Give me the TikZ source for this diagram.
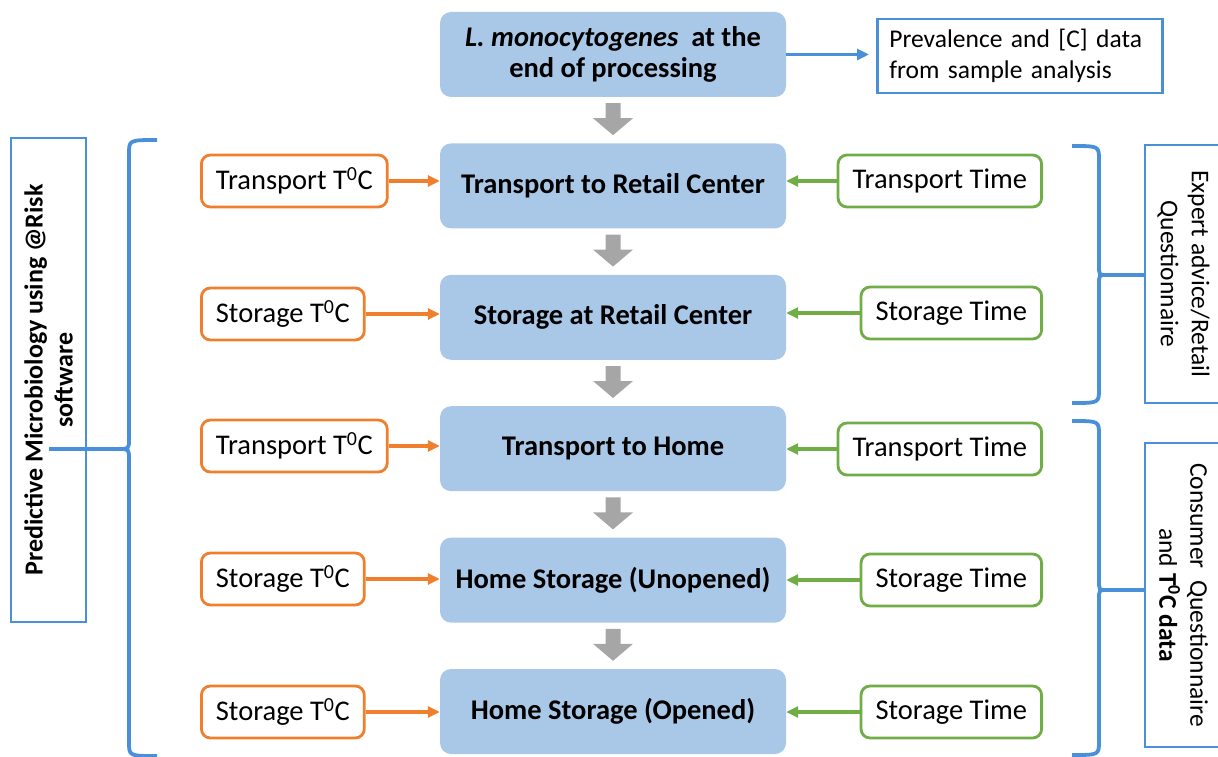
\documentclass[tikz,border=0pt]{standalone}
\usepackage{fontspec}
\setmainfont{Carlito}
\usetikzlibrary{
  arrows.meta,
  positioning,  % below=of ...
  calc,         % let ... in
}
\definecolor{stagefill}{HTML}{A9C8E8}
\definecolor{templine}{HTML}{F07F2D}
\definecolor{timeline}{HTML}{70AD47}
\definecolor{srcline}{HTML}{4A90D9}
\definecolor{flowgray}{HTML}{A6A6A6}
\newcommand{\tdeg}{T\textsuperscript{0}C}
\newcommand{\bigfont}{\fontsize{28.5}{31}\selectfont}
\newcommand{\sidefont}{\fontsize{25.5}{31}\selectfont}
% block arrow between two stages
\newcommand{\flowarrow}[2]{%
  \fill[flowgray] let \p1=(#1.south), \p2=(#2.north) in
    (\x1-7.5pt,\y1-6pt) -- (\x1+7.5pt,\y1-6pt) -- (\x1+7.5pt,\y2+25pt)
    -- (\x1+20pt,\y2+25pt) -- (\x1,\y2+8pt) -- (\x1-20pt,\y2+25pt)
    -- (\x1-7.5pt,\y2+25pt) -- cycle;}
% curly brace: end x, spine x, tip x, top y, tip y, bottom y, tip name
\newcommand{\curly}[7]{%
  \draw[brace] (#1,#4) .. controls (#2,#4) .. (#2,#4+14)
    -- (#2,#5-10) .. controls (#2,#5) .. (#3,#5)
    .. controls (#2,#5) .. (#2,#5+10)
    -- (#2,#6-14) .. controls (#2,#6) .. (#1,#6);
  \coordinate (#7) at (#3,#5);}
\tikzset{
  stage/.style={
    rectangle,
    rounded corners=11pt,
    fill=stagefill,
    minimum width=346pt,
    minimum height=85pt,
    inner sep=0pt,
    align=center,
    font=\bigfont\bfseries
  },
  input/.style={
    rectangle,
    rounded corners=9pt,
    line width=2.8pt,
    fill=white,
    minimum height=52pt,
    inner xsep=14.5pt,
    inner ysep=0pt,
    font=\bigfont
  },
  tempin/.style={input, draw=templine, anchor=west},
  timein/.style={input, draw=timeline, anchor=east},
  sidebox/.style={
    rectangle,
    draw=srcline,
    line width=2.8pt,
    inner sep=0pt,
    align=center,
    font=\sidefont
  },
  tarrow/.style={draw=templine, line width=3.4pt, -{Triangle[length=12pt,width=11pt]}},
  marrow/.style={draw=timeline, line width=3.4pt, -{Triangle[length=12pt,width=11pt]}},
  brace/.style={draw=srcline, line width=3.8pt},
  bracket/.style={draw=srcline, line width=3.4pt}
}
\begin{document}
\begin{tikzpicture}[x=1pt,y=-1pt]
\useasboundingbox (0,0) rectangle (1218,757);
\clip (0,0) rectangle (1218,757);

% main chain
\node[stage] (s0) at (613,54.5) {\textit{L. monocytogenes}\ \ at the\\end of processing};
\node[stage, below=46pt of s0] (s1) {Transport to Retail Center};
\node[stage, below=46pt of s1] (s2) {Storage at Retail Center};
\node[stage, below=46pt of s2] (s3) {Transport to Home};
\node[stage, below=46pt of s3] (s4) {Home Storage (Unopened)};
\node[stage, below=46pt of s4] (s5) {Home Storage (Opened)};
\flowarrow{s0}{s1}
\flowarrow{s1}{s2}
\flowarrow{s2}{s3}
\flowarrow{s3}{s4}
\flowarrow{s4}{s5}

% temperatures
\node[tempin] (tp1) at (200,181) {Transport \tdeg};
\node[tempin] (tp2) at (200,314) {Storage \tdeg};
\node[tempin] (tp3) at (200,446) {Transport \tdeg};
\node[tempin] (tp4) at (200,579) {Storage \tdeg};
\node[tempin] (tp5) at (200,712) {Storage \tdeg};

% times
\node[timein] (tm1) at (1043,181) {Transport Time};
\node[timein] (tm2) at (1043,313) {Storage Time};
\node[timein] (tm3) at (1043,449) {Transport Time};
\node[timein] (tm4) at (1043,580) {Storage Time};
\node[timein] (tm5) at (1043,712) {Storage Time};

\foreach \i in {1,...,5} {
  \draw[tarrow] (tp\i.east) -- (tp\i.east -| s\i.west);
  \draw[marrow] (tm\i.west) -- (tm\i.west -| s\i.east);
}

% data sources
\node[sidebox, anchor=west, minimum height=74pt, inner xsep=12pt,
      text width=261pt, align=left] (src) at (876,56)
  {Prevalence and [C] data\\from sample analysis};
\draw[bracket, -{Triangle[length=12pt,width=11pt]}, shorten >=7pt]
  (s0.east) -- (s0.east -| src.west);

\node[sidebox, rotate=90, minimum width=484pt, minimum height=75pt,
      font=\fontsize{26}{30}\selectfont\bfseries] (pm) at (48.5,380)
  {Predictive Microbiology using @Risk\\software};
\node[sidebox, rotate=-90, minimum width=258pt, minimum height=77pt] (ex) at (1183.5,274)
  {Expert advice/Retail\\Questionnaire};
\node[sidebox, rotate=-90, minimum width=304pt, minimum height=77pt] (cq) at (1183.5,595)
  {Consumer\ \ Questionnaire\\and \textbf{\tdeg\ data}};

% braces
\curly{157}{129}{118}{140}{449}{756}{lb}
\curly{1072}{1099}{1106}{146}{275}{403}{rb1}
\curly{1072}{1099}{1106}{421}{590}{755}{rb2}
\draw[bracket] (lb) -- (lb -| pm.east);
\draw[bracket] (rb1) -- (rb1 -| ex.south);
\draw[bracket] (rb2) -- (rb2 -| cq.south);
\end{tikzpicture}
\end{document}
